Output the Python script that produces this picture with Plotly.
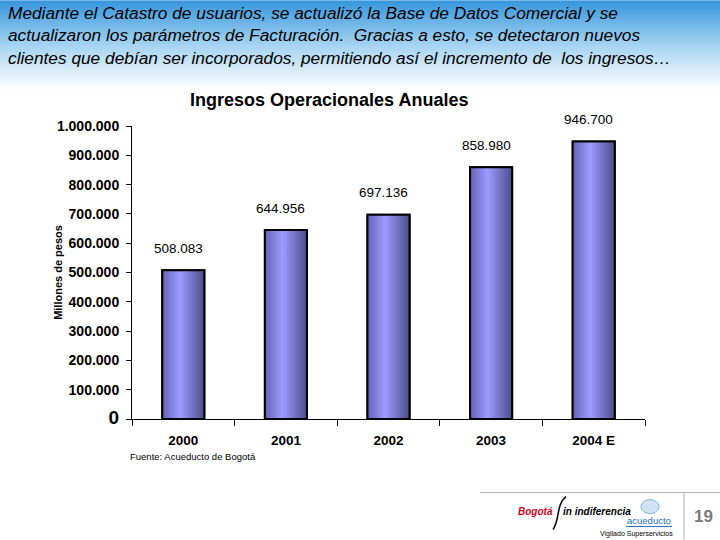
import base64
import plotly.graph_objects as go

# ---------------- data ----------------
categories = ["2000", "2001", "2002", "2003", "2004 E"]
ingresos = [508083, 644956, 697136, 858980, 946700]
y_tick_values = [0, 100000, 200000, 300000, 400000, 500000, 600000, 700000, 800000, 900000, 1000000]
y_tick_labels = ["0", "100.000", "200.000", "300.000", "400.000", "500.000",
                 "600.000", "700.000", "800.000", "900.000", "1.000.000"]

header_text = ("Mediante el Catastro de usuarios, se actualizó la Base de Datos Comercial y se<br>"
               "actualizaron los parámetros de Facturación.  Gracias a esto, se detectaron nuevos<br>"
               "clientes que debían ser incorporados, permitiendo así el incremento de  los ingresos…")
chart_title = "Ingresos Operacionales Anuales"
y_title = "Millones de pesos"
source_text = "Fuente: Acueducto de Bogotá"

# ---------------- geometry helpers (plot area in pixels) ----------------
W, H = 720, 540
L, R, T, B = 132, 645, 126, 419.3
def px(x):
    return (x - L) / (R - L)
def py(y):
    return (B - y) / (B - T)

BAR_W = 0.41
xs = list(range(len(categories)))

def fmt(v):
    return f"{v:,}".replace(",", ".")

FONT = "Arial, Liberation Sans"

fig = go.Figure()

# plain bar trace (data)
fig.add_trace(go.Bar(
    x=xs, y=ingresos, width=BAR_W,
    marker=dict(color="#8a8ae6", line=dict(color="black", width=2)),
    showlegend=False, hoverinfo="skip",
))

# gradient fill for each bar, built from the same data via data coordinates
grad = [[0, "#6464b8"], [0.42, "#9c9cff"], [1, "#4c4c8a"]]
for i, v in zip(xs, ingresos):
    x0, x1 = i - BAR_W / 2, i + BAR_W / 2
    fig.add_trace(go.Scatter(
        x=[x0, x1, x1, x0, x0], y=[0, 0, v, v, 0],
        mode="lines", fill="toself",
        fillgradient=dict(type="horizontal", colorscale=grad),
        line=dict(color="black", width=2),
        showlegend=False, hoverinfo="skip",
    ))

annotations = []
# value labels
for i, v in zip(xs, ingresos):
    annotations.append(dict(
        x=i, y=v, xref="x", yref="y", text=fmt(v), showarrow=False,
        yshift=22, xshift=-5,
        font=dict(family=FONT, size=13.5, color="black"),
    ))

# header text
annotations.append(dict(
    x=px(6), y=py(1), xref="paper", yref="paper", xanchor="left", yanchor="top",
    text="<i>" + header_text + "</i>", showarrow=False, align="left",
    font=dict(family=FONT, size=17.3, color="black"),
))
# chart title
annotations.append(dict(
    x=px(329), y=py(100), xref="paper", yref="paper", xanchor="center", yanchor="middle",
    text="<b>" + chart_title + "</b>", showarrow=False,
    font=dict(family=FONT, size=18, color="black"),
))
# y axis title
annotations.append(dict(
    x=px(58), y=py(273), xref="paper", yref="paper", xanchor="center", yanchor="middle",
    text="<b>" + y_title + "</b>", showarrow=False, textangle=-90,
    font=dict(family=FONT, size=11, color="black"),
))
# source
annotations.append(dict(
    x=px(128), y=py(457), xref="paper", yref="paper", xanchor="left", yanchor="middle",
    text=source_text, showarrow=False,
    font=dict(family=FONT, size=9.5, color="black"),
))
# footer: logos / page number
annotations += [
    dict(x=px(555), y=py(512), xref="paper", yref="paper", xanchor="right", yanchor="middle",
         text="<b><i>Bogotá</i></b>", showarrow=False,
         font=dict(family=FONT, size=10, color="#d4001a")),
    dict(x=px(561), y=py(512), xref="paper", yref="paper", xanchor="left", yanchor="middle",
         text="<b><i>in indiferencia</i></b>", showarrow=False,
         font=dict(family=FONT, size=10, color="black")),
    dict(x=px(649), y=py(521), xref="paper", yref="paper", xanchor="center", yanchor="middle",
         text="acueducto", showarrow=False,
         font=dict(family=FONT, size=9.5, color="#1f6fbf")),
    dict(x=px(636), y=py(534), xref="paper", yref="paper", xanchor="center", yanchor="middle",
         text="Vigilado Superservicios", showarrow=False,
         font=dict(family=FONT, size=7, color="black")),
    dict(x=px(703), y=py(517), xref="paper", yref="paper", xanchor="center", yanchor="middle",
         text="<b>19</b>", showarrow=False,
         font=dict(family=FONT, size=17, color="#7a7a7a")),
]

shapes = [
    # footer lines
    dict(type="line", xref="paper", yref="paper", x0=px(480), x1=px(720), y0=py(493), y1=py(493),
         line=dict(color="#b0b0b0", width=1)),
    dict(type="line", xref="paper", yref="paper", x0=px(684), x1=px(684), y0=py(493), y1=py(540),
         line=dict(color="#b0b0b0", width=1)),
    # swoosh of the Bogotá logo
    dict(type="path", xref="paper", yref="paper",
         path=(f"M {px(553)},{py(530)} C {px(560)},{py(520)} {px(556)},{py(505)} {px(566)},{py(497)}"),
         line=dict(color="black", width=1.5)),
    # acueducto underline + icon
    dict(type="line", xref="paper", yref="paper", x0=px(626), x1=px(672), y0=py(527), y1=py(527),
         line=dict(color="#1f6fbf", width=1)),
    dict(type="circle", xref="paper", yref="paper", x0=px(641), x1=px(659), y0=py(500), y1=py(514),
         line=dict(color="#7fb4e0", width=1), fillcolor="rgba(160,200,235,0.5)"),
]

# header gradient (SVG data URI)
svg = ('<svg xmlns="http://www.w3.org/2000/svg" width="720" height="100" preserveAspectRatio="none">'
       '<defs><linearGradient id="g" x1="0" y1="0" x2="0" y2="1">'
       '<stop offset="0" stop-color="#3595dc"/>'
       '<stop offset="0.45" stop-color="#a5d3f2"/>'
       '<stop offset="0.9" stop-color="#ffffff"/>'
       '<stop offset="1" stop-color="#ffffff"/>'
       '</linearGradient></defs><rect width="720" height="100" fill="url(#g)"/></svg>')
src = "data:image/svg+xml;base64," + base64.b64encode(svg.encode()).decode()
images = [dict(source=src, xref="paper", yref="paper", x=px(0), y=py(0),
               sizex=720 / (R - L), sizey=100 / (B - T), xanchor="left", yanchor="top",
               sizing="stretch", layer="below")]

ticktext = [("<span style='font-size:19px'>0</span>" if t == "0" else t) for t in y_tick_labels]

fig.update_layout(
    width=W, height=H,
    margin=dict(l=L, r=W - R, t=T, b=H - B),
    paper_bgcolor="white", plot_bgcolor="rgba(0,0,0,0)",
    showlegend=False,
    annotations=annotations, shapes=shapes, images=images,
    xaxis=dict(
        range=[-0.5, len(categories) - 0.5],
        tickmode="array", tickvals=xs, ticktext=categories,
        ticks="", showgrid=False, zeroline=False,
        showline=True, linecolor="black", linewidth=1,
        tickfont=dict(family=FONT, size=13.5, color="black", weight="bold"),
        ticklabelstandoff=9,
        minor=dict(tickmode="array", tickvals=[i - 0.5 for i in range(len(categories) + 1)],
                   ticks="outside", ticklen=6, tickcolor="black", tickwidth=1, showgrid=False),
        fixedrange=True,
    ),
    yaxis=dict(
        range=[0, 1000000],
        tickmode="array", tickvals=y_tick_values, ticktext=ticktext,
        ticks="outside", ticklen=5, tickcolor="black", tickwidth=1,
        showgrid=False, zeroline=False,
        showline=True, linecolor="black", linewidth=1,
        tickfont=dict(family=FONT, size=14, color="black", weight="bold"),
        ticklabelstandoff=4,
        fixedrange=True,
    ),
)

fig.write_html(
    "out.html",
    config={"displayModeBar": False},
    post_script="document.body.style.margin='0';document.body.style.overflow='hidden';",
)
